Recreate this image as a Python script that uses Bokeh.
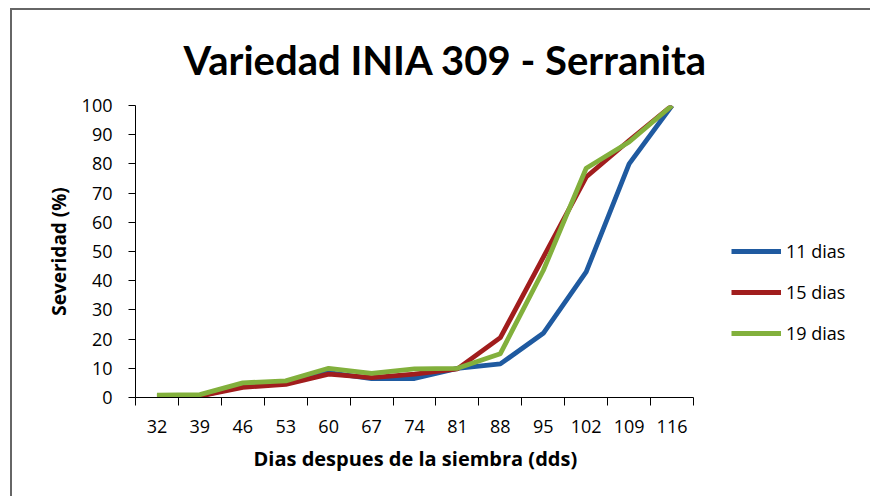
from bokeh.plotting import figure
from bokeh.models import FixedTicker, Legend, LegendItem, Title, Range1d
from bokeh.embed import file_html
from bokeh.resources import INLINE

days = [32, 39, 46, 53, 60, 67, 74, 81, 88, 95, 102, 109, 116]
dias_11 = [0.5, 0.5, 4, 5, 8.5, 6.5, 6.5, 10, 11.5, 22, 43, 80, 100]
dias_15 = [0.5, 0.5, 3.5, 4.5, 8, 6.8, 8, 9.8, 20.5, 48, 75.5, 88, 100]
dias_19 = [0.8, 1, 5, 5.7, 10, 8.3, 9.8, 10, 15, 43.5, 78.5, 87.5, 100]
series_names = ["11 dias", "15 dias", "19 dias"]
colors = ["#1f5aa0", "#a11d1d", "#82b03c"]
y_ticks = list(range(0, 101, 10))

TFONT = "Lato"
FONT = "Open Sans"
n = len(days)
x_pos = [i + 0.5 for i in range(n)]

# frame: left 123, right margin 2 -> width 735; 13 categories over 558 px
frame_w = 735
cat_px = 558 / n
x_end = frame_w / cat_px

p = figure(width=860, height=488, output_backend="svg", toolbar_location=None,
           x_range=Range1d(0, x_end), y_range=Range1d(0, 100),
           min_border_left=123, min_border_right=2, min_border_top=95,
           min_border_bottom=101)
p.styles = {"border-top": "2px solid #666666", "border-left": "2px solid #666666",
            "margin-top": "8px", "margin-left": "10px"}
p.title = None
t = Title(text="Variedad INIA 309 - Serranita", align="left",
          text_font=TFONT, text_font_size="40px", text_font_style="bold",
          text_color="#000000", standoff=44, offset=48)
p.add_layout(t, "above")

p.xgrid.visible = False
p.ygrid.visible = False
p.outline_line_color = None
p.background_fill_color = "white"
p.border_fill_color = "white"

xa = p.xaxis[0]
xa.bounds = (0, n)
xa.ticker = FixedTicker(ticks=x_pos, minor_ticks=list(range(n + 1)))
xa.major_label_overrides = {x: str(d) for x, d in zip(x_pos, days)}
xa.major_tick_out = 0
xa.major_tick_in = 0
xa.minor_tick_out = 8
xa.minor_tick_in = 0
xa.minor_tick_line_color = "black"
xa.axis_line_color = "black"
xa.major_label_text_font = FONT
xa.major_label_text_font_size = "18px"
xa.major_label_text_color = "black"
xa.major_label_standoff = 14

xt = Title(text="Dias despues de la siembra (dds)", align="left",
           text_font=FONT, text_font_size="20px", text_font_style="bold",
           text_color="black", standoff=15, offset=118)
p.add_layout(xt, "below")

ya = p.yaxis[0]
ya.ticker = FixedTicker(ticks=y_ticks)
ya.minor_tick_line_color = None
ya.major_tick_out = 7
ya.major_tick_in = 0
ya.major_tick_line_color = "black"
ya.axis_line_color = "black"
ya.major_label_text_font = FONT
ya.major_label_text_font_size = "18px"
ya.major_label_text_color = "black"
ya.major_label_standoff = 16
ya.axis_label = "Severidad (%)"
ya.axis_label_text_font = FONT
ya.axis_label_text_font_size = "19px"
ya.axis_label_text_font_style = "bold"
ya.axis_label_text_color = "black"
ya.axis_label_standoff = 7

items = []
for name, vals, c in zip(series_names, [dias_11, dias_15, dias_19], colors):
    r = p.line(x_pos, vals, line_color=c, line_width=4.8, line_join="round")
    items.append(LegendItem(label=name, renderers=[r]))

# legend just right of the data area, inside the (wider) frame
legend = Legend(items=items, location=(596, 52), orientation="vertical",
                border_line_color=None, background_fill_alpha=0,
                padding=0, margin=0, spacing=17, glyph_width=50,
                glyph_height=20, label_height=20, label_standoff=5,
                label_text_font=FONT, label_text_font_size="18px",
                label_text_color="black")
p.add_layout(legend, "center")

open("out.html", "w").write(file_html(p, INLINE))
